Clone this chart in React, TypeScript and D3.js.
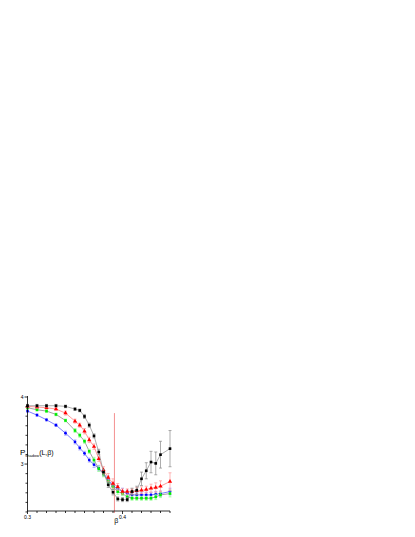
import React, { useEffect, useRef } from 'react';
import * as d3 from 'd3';

const beta = [0.3, 0.31, 0.32, 0.33, 0.34, 0.35, 0.355, 0.36, 0.365, 0.37, 0.375, 0.38, 0.385, 0.39, 0.395, 0.4, 0.405, 0.41, 0.415, 0.42, 0.425, 0.43, 0.435, 0.44, 0.45];

const black = [3.87, 3.87, 3.87, 3.87, 3.86, 3.82, 3.8, 3.71, 3.58, 3.42, 3.18, 2.88, 2.69, 2.58, 2.48, 2.47, 2.47, 2.59, 2.61, 2.78, 2.9, 3.03, 3.01, 3.14, 3.23];
const blackErr = [0.02, 0.02, 0.02, 0.02, 0.02, 0.02, 0.02, 0.03, 0.03, 0.03, 0.04, 0.04, 0.04, 0.04, 0.03, 0.03, 0.03, 0.05, 0.06, 0.1, 0.12, 0.16, 0.17, 0.2, 0.27];

const red = [3.86, 3.85, 3.84, 3.82, 3.76, 3.64, 3.58, 3.49, 3.36, 3.26, 3.08, 2.91, 2.8, 2.71, 2.66, 2.59, 2.59, 2.59, 2.6, 2.61, 2.62, 2.64, 2.65, 2.67, 2.74];
const redErr = [0.02, 0.02, 0.02, 0.02, 0.03, 0.03, 0.03, 0.04, 0.04, 0.04, 0.04, 0.05, 0.06, 0.07, 0.05, 0.04, 0.04, 0.04, 0.05, 0.05, 0.05, 0.06, 0.07, 0.08, 0.13];

const green = [3.84, 3.81, 3.79, 3.74, 3.65, 3.5, 3.43, 3.34, 3.19, 3.06, 2.93, 2.85, 2.74, 2.66, 2.59, 2.56, 2.51, 2.49, 2.49, 2.49, 2.49, 2.49, 2.51, 2.54, 2.56];
const greenErr = [0.02, 0.02, 0.02, 0.02, 0.02, 0.03, 0.03, 0.03, 0.03, 0.04, 0.04, 0.04, 0.04, 0.04, 0.04, 0.03, 0.03, 0.03, 0.03, 0.03, 0.03, 0.03, 0.04, 0.04, 0.05];

const blue = [3.79, 3.73, 3.66, 3.58, 3.46, 3.33, 3.24, 3.16, 3.06, 2.99, 2.94, 2.86, 2.77, 2.67, 2.63, 2.59, 2.56, 2.54, 2.54, 2.54, 2.54, 2.54, 2.55, 2.56, 2.59];
const blueErr = [0.02, 0.02, 0.02, 0.02, 0.03, 0.03, 0.03, 0.03, 0.03, 0.04, 0.04, 0.04, 0.05, 0.05, 0.05, 0.05, 0.05, 0.04, 0.04, 0.04, 0.04, 0.04, 0.04, 0.04, 0.05];

const xTickLabels = [0.3, 0.4];
const yTickLabels = [3, 4];
// critical coupling marker (vertical red line)
const betaC = 0.3915;
const betaCRange = [2.27, 3.76];

const series = [
  { name: 'L1', values: blue, err: blueErr, color: '#0000ff', line: '#4646ff', errColor: '#9a9aff', symbol: d3.symbolCircle, size: 6 },
  { name: 'L2', values: green, err: greenErr, color: '#00ee00', line: '#7a7a7a', errColor: '#8cff8c', symbol: d3.symbolSquare, size: 7 },
  { name: 'L3', values: red, err: redErr, color: '#ff0000', line: '#ff7070', errColor: '#ff9a9a', symbol: d3.symbolTriangle, size: 8 },
  { name: 'L4', values: black, err: blackErr, color: '#000000', line: '#8a8a8a', errColor: '#8a8a8a', symbol: d3.symbolSquare, size: 7 },
];

export default function App() {
  const ref = useRef<SVGSVGElement>(null);

  useEffect(() => {
    const svg = d3.select(ref.current);
    svg.selectAll('*').remove();

    const left = 27.5, right = 170, top = 397, bottom = 511;
    const x = d3.scaleLinear().domain([0.3, 0.45]).range([left, right]);
    const y = d3.scaleLinear().domain([2.3, 4]).range([bottom, top]);

    const g = svg.append('g').attr('font-family', 'Liberation Sans, Arial, sans-serif');

    // red vertical line
    g.append('line')
      .attr('x1', x(betaC))
      .attr('x2', x(betaC))
      .attr('y1', y(betaCRange[0]))
      .attr('y2', y(betaCRange[1]))
      .attr('stroke', '#f49090')
      .attr('stroke-width', 1);

    series.forEach(s => {
      const line = d3
        .line<number>()
        .x((d, i) => x(beta[i]))
        .y(d => y(d));
      g.append('path')
        .datum(s.values)
        .attr('d', line)
        .attr('fill', 'none')
        .attr('stroke', s.line)
        .attr('stroke-width', 0.7);

      const eb = g.append('g').attr('stroke', s.errColor).attr('stroke-width', 0.7);
      s.values.forEach((v, i) => {
        const cx = x(beta[i]);
        const y1 = y(v - s.err[i]);
        const y2 = y(v + s.err[i]);
        eb.append('line').attr('x1', cx).attr('x2', cx).attr('y1', y1).attr('y2', y2);
        eb.append('line').attr('x1', cx - 1.5).attr('x2', cx + 1.5).attr('y1', y1).attr('y2', y1);
        eb.append('line').attr('x1', cx - 1.5).attr('x2', cx + 1.5).attr('y1', y2).attr('y2', y2);
      });

      g.append('g')
        .selectAll('path')
        .data(s.values)
        .enter()
        .append('path')
        .attr('transform', (d, i) => `translate(${x(beta[i])},${y(d)})`)
        .attr('d', d3.symbol().type(s.symbol).size(s.size)())
        .attr('fill', s.color);
    });

    // axes
    const xAxis = g.append('g').attr('transform', `translate(0,${bottom})`);
    xAxis.append('line').attr('x1', left - 0.5).attr('x2', right).attr('stroke', '#000').attr('stroke-width', 0.8);
    d3.range(0.3, 0.4501, 0.01).forEach(t => {
      const major = xTickLabels.some(l => Math.abs(l - t) < 1e-6);
      xAxis.append('line')
        .attr('x1', x(t)).attr('x2', x(t))
        .attr('y1', 0).attr('y2', major ? 3 : 2)
        .attr('stroke', '#000').attr('stroke-width', 0.8);
    });
    xTickLabels.forEach(t => {
      xAxis.append('text')
        .attr('x', x(t))
        .attr('y', 8)
        .attr('text-anchor', 'middle')
        .attr('font-size', 5)
        .text(d3.format('.1f')(t));
    });

    const yAxis = g.append('g').attr('transform', `translate(${left},0)`);
    yAxis.append('line').attr('y1', top - 1).attr('y2', bottom).attr('stroke', '#000').attr('stroke-width', 0.8);
    d3.range(0, 13).map(k => 4 - k / 7).filter(t => t >= 2.28).forEach(t => {
      const major = yTickLabels.some(l => Math.abs(l - t) < 1e-6);
      yAxis.append('line')
        .attr('x1', 0).attr('x2', major ? -3 : -2)
        .attr('y1', y(t)).attr('y2', y(t))
        .attr('stroke', '#000').attr('stroke-width', 0.8);
    });
    yTickLabels.forEach(t => {
      yAxis.append('text')
        .attr('x', -4)
        .attr('y', y(t) + 2)
        .attr('text-anchor', 'end')
        .attr('font-size', 5)
        .text(t);
    });

    g.append('text')
      .attr('x', x(0.3935))
      .attr('y', bottom + 12)
      .attr('text-anchor', 'middle')
      .attr('font-size', 7)
      .text('β');

    const ylab = g.append('text').attr('x', 20).attr('y', 455).attr('font-size', 8);
    ylab.append('tspan').text('P');
    ylab.append('tspan').attr('font-size', 4).attr('dy', 2).text('shadow');
    ylab.append('tspan').attr('dy', -2).attr('font-size', 7).text('(L,β)');
  }, []);

  return (
    <svg
      ref={ref}
      width={415}
      height={537}
      style={{ position: 'absolute', left: 0, top: 0, background: '#fff' }}
    />
  );
}
